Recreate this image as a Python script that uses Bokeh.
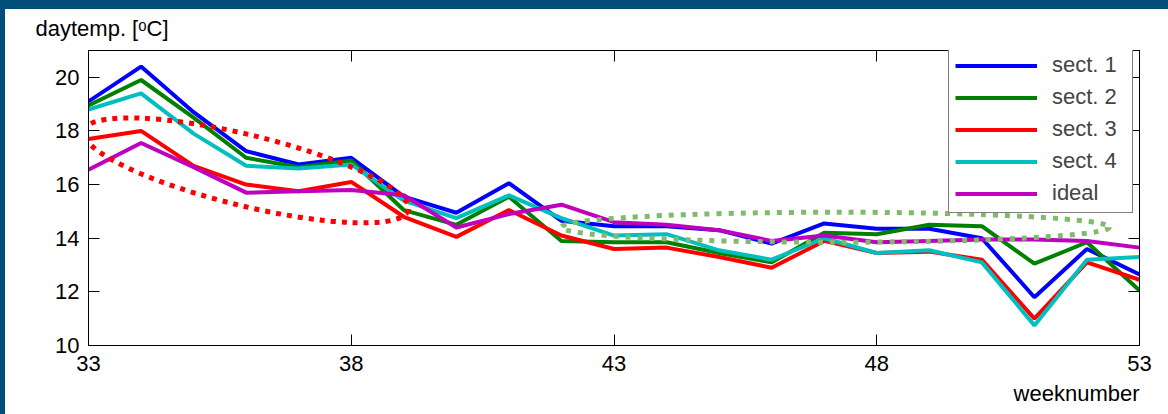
from bokeh.plotting import figure
from bokeh.models import (Range1d, LinearAxis, FixedTicker, Legend, LegendItem,
                          Title, GlobalInlineStyleSheet)
from bokeh.embed import file_html
from bokeh.resources import INLINE

# ---------------- data ----------------
weeks = list(range(33, 54))
sect1 = [19.1, 20.4, 18.7, 17.25, 16.75, 17.0, 15.55, 14.95, 16.05, 14.65, 14.45,
         14.45, 14.3, 13.8, 14.55, 14.35, 14.35, 14.0, 11.8, 13.6, 12.65]
sect2 = [18.95, 19.9, 18.5, 17.0, 16.65, 16.9, 15.05, 14.5, 15.55, 13.9, 13.85,
         13.85, 13.45, 13.1, 14.2, 14.15, 14.5, 14.45, 13.05, 13.85, 12.05]
sect3 = [17.7, 18.0, 16.7, 16.0, 15.75, 16.1, 14.8, 14.05, 15.05, 14.1, 13.6,
         13.65, 13.3, 12.9, 13.9, 13.45, 13.5, 13.2, 11.0, 13.1, 12.45]
sect4 = [18.8, 19.4, 17.9, 16.7, 16.6, 16.75, 15.4, 14.75, 15.6, 14.75, 14.1,
         14.15, 13.55, 13.2, 14.0, 13.45, 13.55, 13.1, 10.75, 13.2, 13.3]
ideal = [16.55, 17.55, 16.65, 15.7, 15.75, 15.8, 15.6, 14.4, 14.9, 15.25, 14.6,
         14.5, 14.3, 13.9, 14.1, 13.85, 13.9, 13.95, 13.95, 13.9, 13.65]

series_names = ["sect. 1", "sect. 2", "sect. 3", "sect. 4", "ideal"]
series_values = [sect1, sect2, sect3, sect4, ideal]
series_colors = ["#0000FF", "#008000", "#FF0000", "#00BFBF", "#BF00BF"]

x_ticks = [33, 38, 43, 48, 53]
y_ticks = [10, 12, 14, 16, 18, 20]
y_label = "daytemp. [\u1d52C]"
x_label = "weeknumber"

# highlight ellipses (annotation): centre (week, temp), size in px, angle rad
red_ellipse = dict(x=36.0, y=16.53, w=334, h=71, angle=-0.239)
green_ellipse = dict(x=47.21, y=14.41, w=548, h=30, angle=0.0)

FONT = "Liberation Sans"
FS = "22px"

# ---------------- figure ----------------
p = figure(frame_width=1051, frame_height=295,
           min_border_left=88, min_border_right=29,
           min_border_top=50, min_border_bottom=69,
           x_range=Range1d(33, 53), y_range=Range1d(10, 21),
           output_backend="svg", toolbar_location=None,
           background_fill_color="white", border_fill_color=None)
p.xgrid.grid_line_color = None
p.ygrid.grid_line_color = None
p.outline_line_color = "black"
p.outline_line_width = 1

bottom_axis = p.below[0]
left_axis = p.left[0]
top_axis = LinearAxis()
right_axis = LinearAxis()
p.add_layout(top_axis, "above")
p.add_layout(right_axis, "right")

bottom_axis.ticker = FixedTicker(ticks=x_ticks)
top_axis.ticker = FixedTicker(ticks=x_ticks)
left_axis.ticker = FixedTicker(ticks=y_ticks)
right_axis.ticker = FixedTicker(ticks=y_ticks)

for ax in (bottom_axis, left_axis, top_axis, right_axis):
    ax.axis_line_color = "black"
    ax.axis_line_width = 1
    ax.major_tick_line_color = "black"
    ax.major_tick_line_width = 1
    ax.major_tick_in = 11
    ax.major_tick_out = 0
    ax.minor_tick_line_color = None
    ax.major_label_text_font = FONT
    ax.major_label_text_font_size = FS
    ax.major_label_text_color = "black"

bottom_axis.major_label_standoff = 10
left_axis.major_label_standoff = 9
for ax in (top_axis, right_axis):
    ax.major_label_text_color = None
    ax.major_label_text_font_size = "0px"
    ax.major_label_standoff = 0

# axis titles
p.title.text = y_label
p.title.align = "left"
p.title.offset = -53
p.title.text_font = FONT
p.title.text_font_size = FS
p.title.text_font_style = "normal"
p.title.text_color = "black"
p.title.standoff = 19

p.add_layout(Title(text=x_label, align="right", text_font=FONT, text_font_size=FS,
                   text_font_style="normal", text_color="black", standoff=11), "below")

# ---------------- lines ----------------
renderers = []
for vals, col in zip(series_values, series_colors):
    r = p.line(weeks, vals, line_color=col, line_width=4)
    renderers.append(r)

# ---------------- ellipses ----------------
p.ellipse(x=[red_ellipse["x"]], y=[red_ellipse["y"]],
          width=red_ellipse["w"], height=red_ellipse["h"], angle=red_ellipse["angle"],
          width_units="screen", height_units="screen",
          fill_color=None, line_color="#FF0000", line_width=5, line_dash="5 6")
p.ellipse(x=[green_ellipse["x"]], y=[green_ellipse["y"]],
          width=green_ellipse["w"], height=green_ellipse["h"], angle=green_ellipse["angle"],
          width_units="screen", height_units="screen",
          fill_color=None, line_color="#80BA6C", line_width=5, line_dash="5 7")

# ---------------- legend ----------------
legend = Legend(items=[LegendItem(label=n, renderers=[r]) for n, r in zip(series_names, renderers)],
                location=(860, 132), margin=0, padding=6, spacing=6,
                glyph_width=82, glyph_height=25, label_height=25, label_width=74,
                label_standoff=15,
                label_text_font=FONT, label_text_font_size=FS,
                border_line_color="black", border_line_width=1,
                background_fill_color="white", background_fill_alpha=1.0)
p.add_layout(legend)

# slide frame around the chart (blue band top and left), seen through the
# transparent border area of the figure
BLUE = "#024E7B"
p.stylesheets = [GlobalInlineStyleSheet(css=(
    "html { margin:0 !important; padding:0 !important; box-sizing:border-box !important;"
    " background:"
    f" linear-gradient({BLUE},{BLUE}) left top / 100% 9px no-repeat,"
    f" linear-gradient({BLUE},{BLUE}) left top / 5px 100% no-repeat,"
    " #FFFFFF !important; }"
    " body { margin:0 !important; padding:0 !important;"
    " box-sizing:border-box !important; background:transparent !important; }"))]

open("out.html", "w").write(file_html(p, INLINE))
